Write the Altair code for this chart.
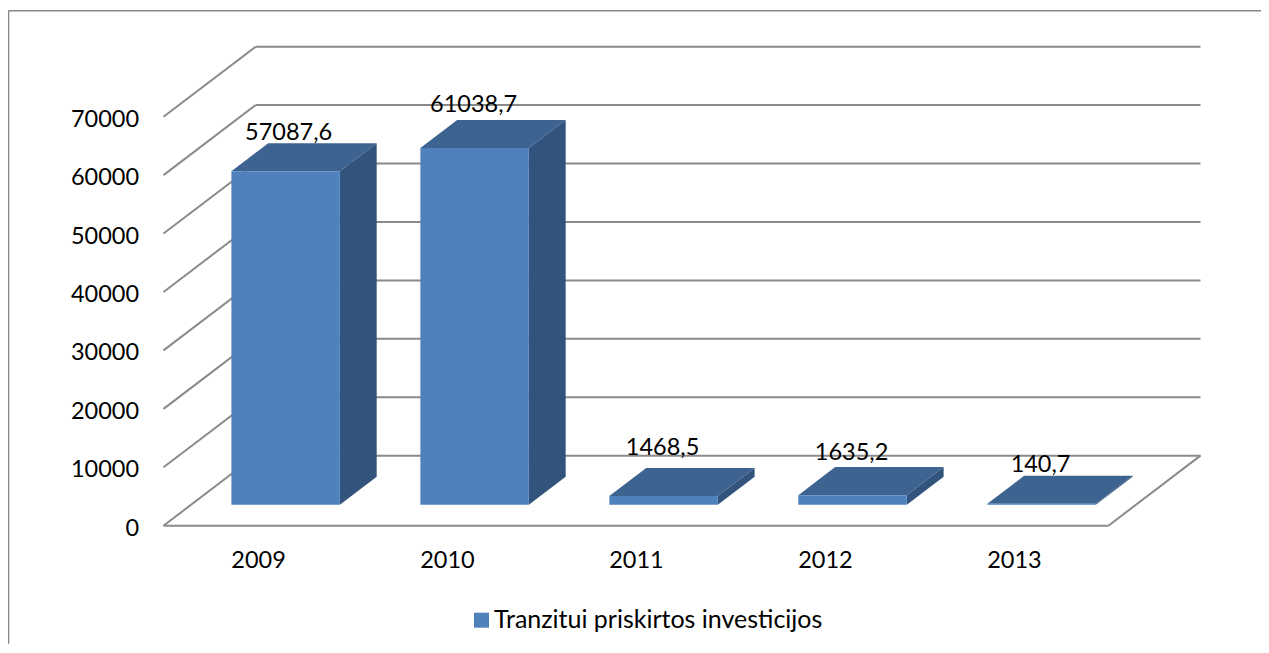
import altair as alt
import pandas as pd

years = ["2009", "2010", "2011", "2012", "2013"]
values = [57087.6, 61038.7, 1468.5, 1635.2, 140.7]
labels = ["57087,6", "61038,7", "1468,5", "1635,2", "140,7"]
series_name = "Tranzitui priskirtos investicijos"
y_ticks = [0, 10000, 20000, 30000, 40000, 50000, 60000, 70000]

FONT = "Lato"
FS = 23.5
GRID = "#8a8a8a"
FRONT = "#4F81BD"
TOP = "#3D6391"
SIDE = "#32547C"

# oblique projection: a point at depth d (0 front .. 1 back wall) shifts right and up
DEPTH_X = 0.4873      # in category units
DEPTH_Y = 11986.0     # in value units
BAR_D0, BAR_D1 = 0.3, 0.7
BAR_W = 0.574
N = len(years)

X_DOMAIN = [0, N + DEPTH_X]
Y_DOMAIN = [0, 70000 + DEPTH_Y]
x_scale = alt.Scale(domain=X_DOMAIN, nice=False, zero=False)
y_scale = alt.Scale(domain=Y_DOMAIN, nice=False, zero=False)

PW, PH = 1037, 479

year_array = "[" + ",".join(f"'{y}'" for y in years) + "]"
x_axis = alt.Axis(
    values=[i + 0.5 for i in range(N)],
    labelExpr=f"{year_array}[floor(datum.value)]",
    title=None, domain=False, ticks=False, grid=False,
    labelFont=FONT, labelFontSize=FS, labelColor="#000000",
    labelPadding=23, labelFlush=False, labelOverlap=False,
)
y_axis = alt.Axis(
    values=y_ticks, format="d", title=None, domain=False, ticks=False, grid=False,
    labelFont=FONT, labelFontSize=FS, labelColor="#000000",
    labelPadding=25, labelOverlap=False, labelOffset=2.5,
)


def X(f):
    return alt.X(f, type="quantitative", scale=x_scale, axis=x_axis)


def Y(f):
    return alt.Y(f, type="quantitative", scale=y_scale, axis=y_axis)


# walls and floor
segments = []
for v in y_ticks:
    # left wall diagonal
    segments.append(dict(x=0, x2=DEPTH_X, y=v, y2=v + DEPTH_Y))
    # back wall line
    segments.append(dict(x=DEPTH_X, x2=N + DEPTH_X, y=v + DEPTH_Y, y2=v + DEPTH_Y))
segments.append(dict(x=0, x2=N, y=0, y2=0))
segments.append(dict(x=N, x2=N + DEPTH_X, y=0, y2=DEPTH_Y))
walls = alt.Chart(pd.DataFrame(segments)).mark_rule(
    color=GRID, strokeWidth=2
).encode(X("x"), Y("y"), x2="x2:Q", y2="y2:Q")

# outer frame of the chart object, running to the edge of the drawing
frame_left = alt.Chart(pd.DataFrame({"a": [0]})).mark_rule(color="#868686", strokeWidth=1.5).encode(
    x=alt.value(-155), y=alt.value(-36), y2=alt.value(PH + 118)
)
frame_top = alt.Chart(pd.DataFrame({"a": [0]})).mark_rule(color="#868686", strokeWidth=1.5).encode(
    x=alt.value(-155), x2=alt.value(PW + 60.5), y=alt.value(-36)
)

# bars
front_rows, top_rows, side_rows = [], [], []
for i, (yr, v) in enumerate(zip(years, values)):
    left = i + 0.5 - BAR_W / 2 + BAR_D0 * DEPTH_X
    right = left + BAR_W
    base0 = BAR_D0 * DEPTH_Y
    base1 = BAR_D1 * DEPTH_Y
    dx = (BAR_D1 - BAR_D0) * DEPTH_X
    front_rows.append(dict(x=left, x2=right, y=base0, y2=base0 + v, series=series_name))
    top_rows.append(dict(bar=yr, xl=left, xr=right, y=base0 + v))
    top_rows.append(dict(bar=yr, xl=left + dx, xr=right + dx, y=base1 + v))
    side_rows.append(dict(bar=yr, x=right, lo=base0, hi=base0 + v))
    side_rows.append(dict(bar=yr, x=right + dx, lo=base1, hi=base1 + v))

top = alt.Chart(pd.DataFrame(top_rows)).mark_area(orient="horizontal", color=TOP).encode(
    X("xl"), x2="xr:Q", y=Y("y"), detail="bar:N"
)
side = alt.Chart(pd.DataFrame(side_rows)).mark_area(orient="vertical", color=SIDE).encode(
    X("x"), Y("lo"), y2="hi:Q", detail="bar:N"
)
front = alt.Chart(pd.DataFrame(front_rows)).mark_rect().encode(
    X("x"), x2="x2:Q", y=Y("y"), y2="y2:Q",
    color=alt.Color(
        "series:N",
        scale=alt.Scale(domain=[series_name], range=[FRONT]),
        legend=alt.Legend(
            orient="none", legendX=305.5, legendY=PH + 82, title=None,
            symbolType="square", symbolSize=225, symbolStrokeWidth=0,
            labelFont=FONT, labelFontSize=25, labelColor="#000000",
            labelOffset=0, labelLimit=500,
        ),
    ),
)

# value labels, each nudged the way the source chart placed them
label_nudges = [(3, -38), (-1, -43), (-1, -48), (-1, -42), (-1, -39)]
label_layers = []
for i, (txt, v) in enumerate(zip(labels, values)):
    d = pd.DataFrame([dict(x=i + 0.5 + BAR_D0 * DEPTH_X, y=BAR_D0 * DEPTH_Y + v, t=txt)])
    ndx, ndy = label_nudges[i]
    label_layers.append(
        alt.Chart(d).mark_text(
            font=FONT, fontSize=FS, color="#000000", align="center",
            baseline="middle", dx=ndx, dy=ndy,
        ).encode(X("x"), Y("y"), text="t:N")
    )

chart = alt.layer(
    frame_left, frame_top, walls, top, side, front, *label_layers
).properties(
    width=PW, height=PH,
    padding={"left": 155.5, "top": 38.7, "right": 60.5, "bottom": 118},
    autosize=alt.AutoSizeParams(type="none"),
    background="#ffffff",
).configure_view(stroke=None)

chart.save("out.html", embed_options={"renderer": "svg", "actions": False})
